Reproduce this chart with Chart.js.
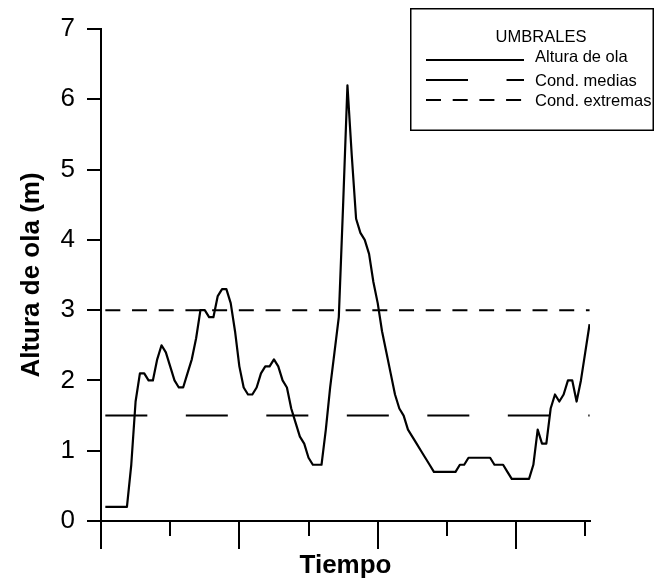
<!DOCTYPE html>
<html>
<head>
<meta charset="utf-8">
<script src="https://cdn.jsdelivr.net/npm/chart.js@4/dist/chart.umd.min.js"></script>
<style>
  html, body { margin: 0; padding: 0; background: #fff; }
  #wrap { width: 660px; height: 581px; position: relative; }
</style>
</head>
<body>
<div id="wrap"><canvas id="c"></canvas></div>
<script>
// Significant wave height (m), one value per time step, steps 1..113
const alturaOla = [
  0.2, 0.2, 0.2, 0.2, 0.2, 0.2, 0.8, 1.7, 2.1, 2.1,
  2.0, 2.0, 2.3, 2.5, 2.4, 2.2, 2.0, 1.9, 1.9, 2.1,
  2.3, 2.6, 3.0, 3.0, 2.9, 2.9, 3.2, 3.3, 3.3, 3.1,
  2.7, 2.2, 1.9, 1.8, 1.8, 1.9, 2.1, 2.2, 2.2, 2.3,
  2.2, 2.0, 1.9, 1.6, 1.4, 1.2, 1.1, 0.9, 0.8, 0.8,
  0.8, 1.3, 1.9, 2.4, 2.9, 4.5, 6.2, 5.2, 4.3, 4.1,
  4.0, 3.8, 3.4, 3.1, 2.7, 2.4, 2.1, 1.8, 1.6, 1.5,
  1.3, 1.2, 1.1, 1.0, 0.9, 0.8, 0.7, 0.7, 0.7, 0.7,
  0.7, 0.7, 0.8, 0.8, 0.9, 0.9, 0.9, 0.9, 0.9, 0.9,
  0.8, 0.8, 0.8, 0.7, 0.6, 0.6, 0.6, 0.6, 0.6, 0.8,
  1.3, 1.1, 1.1, 1.6, 1.8, 1.7, 1.8, 2.0, 2.0, 1.7,
  2.0, 2.4, 2.8
];
// Time step of each wave height value
const tiempo = alturaOla.map((_, i) => i + 1);

// Thresholds (m)
const umbralMedias = 1.5;
const umbralExtremas = 3.0;

// Legend text
const tituloLeyenda = 'UMBRALES';
const nombresSeries = ['Altura de ola', 'Cond. medias', 'Cond. extremas'];

// Axis text and ticks
const tituloY = 'Altura de ola (m)';
const tituloX = 'Tiempo';
const yMin = 0, yMax = 7, yPaso = 1;
const xMin = 0, xMax = 113.1, xPasoMenor = 16, xPasoMayor = 32;

const FONT = '"Liberation Sans", Arial, Helvetica, sans-serif';
Chart.defaults.font.family = FONT;
Chart.defaults.color = '#000';

const puntos = tiempo.map((t, i) => ({ x: t, y: alturaOla[i] }));
const tramo = (v) => [{ x: tiempo[0], y: v }, { x: tiempo[tiempo.length - 1], y: v }];

// Boxed legend with a centred heading and long line samples
const leyendaUmbrales = {
  id: 'leyendaUmbrales',
  afterDraw(chart) {
    const ctx = chart.ctx;
    const box = { x: 410, y: 8, w: 244, h: 123 };
    ctx.save();
    ctx.fillStyle = '#fff';
    ctx.fillRect(box.x, box.y, box.w, box.h);
    ctx.strokeStyle = '#000';
    ctx.lineWidth = 1.5;
    ctx.strokeRect(box.x + 0.75, box.y + 0.75, box.w - 1.5, box.h - 1.5);

    ctx.fillStyle = '#000';
    ctx.font = '16.5px ' + FONT;
    ctx.textBaseline = 'alphabetic';
    ctx.textAlign = 'center';
    ctx.fillText(tituloLeyenda, 541, 41.5);

    const filas = [
      { line: 60, text: 61.5 },
      { line: 80, text: 86 },
      { line: 100, text: 106 }
    ];
    chart.data.datasets.forEach((ds, i) => {
      const f = filas[i];
      ctx.beginPath();
      ctx.setLineDash(ds.borderDash || []);
      ctx.lineDashOffset = 0;
      ctx.lineWidth = 2;
      ctx.lineCap = 'butt';
      ctx.moveTo(426, f.line);
      ctx.lineTo(524, f.line);
      ctx.stroke();
      ctx.setLineDash([]);
      ctx.textAlign = 'left';
      ctx.fillText(ds.label, 535, f.text);
    });
    ctx.restore();
  }
};

new Chart(document.getElementById('c'), {
  type: 'line',
  data: {
    datasets: [
      {
        label: nombresSeries[0],
        data: puntos,
        borderColor: '#000',
        borderWidth: 2.2,
        pointRadius: 0,
        tension: 0,
        borderJoinStyle: 'round',
        fill: false
      },
      {
        label: nombresSeries[1],
        data: tramo(umbralMedias),
        borderColor: '#000',
        borderWidth: 2,
        borderDash: [42, 38.5],
        borderCapStyle: 'butt',
        pointRadius: 0,
        fill: false
      },
      {
        label: nombresSeries[2],
        data: tramo(umbralExtremas),
        borderColor: '#000',
        borderWidth: 2,
        borderDash: [15, 11.7],
        borderCapStyle: 'butt',
        pointRadius: 0,
        fill: false
      }
    ]
  },
  options: {
    responsive: true,
    maintainAspectRatio: false,
    animation: false,
    events: [],
    layout: { padding: { top: 29, right: 70, bottom: 0, left: 0 } },
    plugins: {
      legend: { display: false },
      tooltip: { enabled: false }
    },
    scales: {
      x: {
        type: 'linear',
        min: xMin,
        max: xMax,
        afterFit(s) { s.height = 60; },
        ticks: { display: false, stepSize: xPasoMenor, includeBounds: false },
        grid: {
          drawOnChartArea: false,
          drawTicks: true,
          tickLength: 28,
          tickWidth: 2,
          lineWidth: 2,
          tickColor: '#000',
          tickBorderDash: (c) => (c.tick && c.tick.value % xPasoMayor === 0) ? [] : [14, 100]
        },
        border: { display: true, color: '#000', width: 2 },
        title: {
          display: true,
          text: tituloX,
          color: '#000',
          font: { size: 26, weight: 'bold' },
          padding: { top: 0, bottom: 0 }
        }
      },
      y: {
        min: yMin,
        max: yMax,
        afterFit(s) { s.width = 101; },
        ticks: { stepSize: yPaso, color: '#000', font: { size: 26 }, padding: 12 },
        grid: {
          drawOnChartArea: false,
          drawTicks: true,
          tickLength: 14,
          tickWidth: 2,
          lineWidth: 2,
          tickColor: '#000'
        },
        border: { display: true, color: '#000', width: 2 },
        title: {
          display: true,
          text: tituloY,
          color: '#000',
          font: { size: 26, weight: 'bold' },
          padding: { top: 16, bottom: 0 }
        }
      }
    }
  },
  plugins: [leyendaUmbrales]
});
</script>
</body>
</html>
